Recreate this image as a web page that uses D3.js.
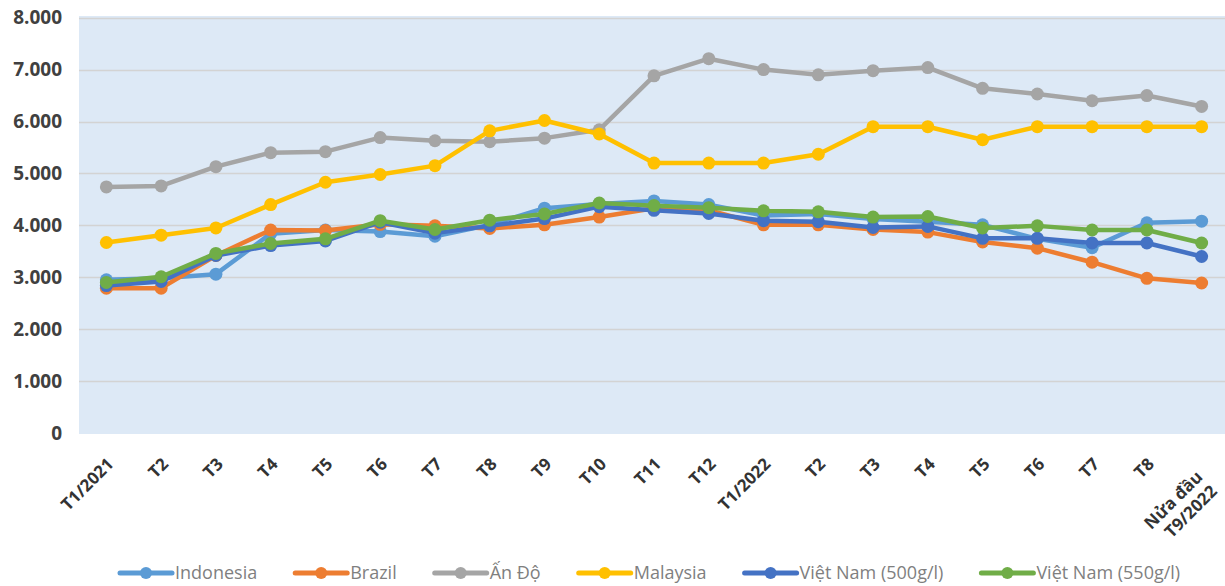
<!DOCTYPE html>
<html>
<head>
<meta charset="utf-8">
<script src="https://cdn.jsdelivr.net/npm/d3@7"></script>
<style>
    body { margin: 0; background: #fff; }
    svg { display: block; font-family: "Open Sans", "Liberation Sans", sans-serif; }
</style>
</head>
<body>
<svg id="chart"></svg>
<script>
const months = ["T1/2021", "T2", "T3", "T4", "T5", "T6", "T7", "T8", "T9", "T10", "T11", "T12",
    "T1/2022", "T2", "T3", "T4", "T5", "T6", "T7", "T8", "Nửa đầu|T9/2022"];

const indonesia = [2950, 2980, 3060, 3840, 3910, 3880, 3790, 4010, 4330, 4410, 4470, 4400, 4190, 4220, 4120, 4070, 4010, 3740, 3570, 4050, 4080];
const brazil = [2790, 2790, 3420, 3910, 3900, 4020, 3990, 3940, 4010, 4160, 4330, 4290, 4010, 4010, 3920, 3870, 3680, 3560, 3290, 2980, 2890];
const anDo = [4740, 4760, 5130, 5400, 5420, 5690, 5630, 5610, 5680, 5840, 6880, 7210, 7000, 6900, 6980, 7040, 6640, 6530, 6400, 6500, 6290];
const malaysia = [3670, 3810, 3950, 4400, 4830, 4980, 5150, 5820, 6020, 5760, 5200, 5200, 5200, 5370, 5900, 5900, 5650, 5900, 5900, 5900, 5900];
const vn500 = [2840, 2920, 3420, 3610, 3700, 4060, 3850, 3990, 4130, 4360, 4290, 4230, 4090, 4070, 3960, 3980, 3750, 3750, 3660, 3660, 3400];
const vn550 = [2900, 3010, 3460, 3650, 3740, 4090, 3920, 4100, 4220, 4430, 4380, 4340, 4280, 4260, 4160, 4170, 3950, 3990, 3910, 3910, 3660];

const yTicks = [0, 1000, 2000, 3000, 4000, 5000, 6000, 7000, 8000];

const series = [
    { name: "Indonesia", color: "#5b9bd5", values: indonesia },
    { name: "Brazil", color: "#ed7d31", values: brazil },
    { name: "Ấn Độ", color: "#a5a5a5", values: anDo },
    { name: "Malaysia", color: "#ffc000", values: malaysia },
    { name: "Việt Nam (500g/l)", color: "#4472c4", values: vn500 },
    { name: "Việt Nam (550g/l)", color: "#70ad47", values: vn550 },
];

const width = 1225, height = 586;
const plot = { left: 79, right: 1229, top: 16, bottom: 433 };

const svg = d3.select("#chart").attr("width", width).attr("height", height);

const x = d3.scaleBand()
    .domain(d3.range(months.length))
    .range([plot.left, plot.right]);

const y = d3.scaleLinear()
    .domain([0, 8000])
    .range([plot.bottom, plot.top + 1.7]);

const cx = (i) => x(i) + x.bandwidth() / 2;

// plot background
svg.append("rect")
    .attr("x", plot.left)
    .attr("y", plot.top)
    .attr("width", plot.right - plot.left)
    .attr("height", plot.bottom - plot.top + 1)
    .attr("fill", "#dde9f6");

// gridlines
svg.append("g")
    .selectAll("line")
    .data(yTicks.slice(1))
    .join("line")
    .attr("x1", plot.left)
    .attr("x2", plot.right)
    .attr("y1", (d) => Math.round(y(d)) + 0.5)
    .attr("y2", (d) => Math.round(y(d)) + 0.5)
    .attr("stroke", "#d3d3d3")
    .attr("stroke-width", 1.5);

// y axis labels
const yAxis = svg.append("g")
    .attr("transform", `translate(${plot.left - 17}, 0)`)
    .call(d3.axisLeft(y).tickValues(yTicks).tickSize(0).tickPadding(0)
        .tickFormat((d) => d3.format(",")(d).replace(/,/g, ".")));
yAxis.select(".domain").remove();
yAxis.selectAll("text")
    .attr("font-family", "'Open Sans', sans-serif")
    .attr("font-size", 19)
    .attr("font-weight", "bold")
    .attr("fill", "#404040");

// x axis labels
const xLabels = svg.append("g")
    .selectAll("text")
    .data(months)
    .join("text")
    .attr("transform", (d, i) => d.includes("|")
        ? `translate(${cx(i) + 5}, 481) rotate(-45)`
        : `translate(${cx(i) + 4}, 461) rotate(-45)`)
    .attr("text-anchor", "end")
    .attr("font-size", 17)
    .attr("font-weight", "bold")
    .attr("fill", "#333333");

xLabels.each(function (d) {
    const lines = d.split("|");
    const t = d3.select(this);
    lines.forEach((line, k) => {
        t.append("tspan")
            .attr("x", 0)
            .attr("dy", k === 0 ? (lines.length > 1 ? "-0.25em" : "0.35em") : "1.2em")
            .text(line);
    });
});

// lines and markers
const line = d3.line()
    .x((d, i) => cx(i))
    .y((d) => y(d));

const seriesG = svg.append("g")
    .selectAll("g")
    .data(series)
    .join("g");

seriesG.append("path")
    .attr("d", (d) => line(d.values))
    .attr("fill", "none")
    .attr("stroke", (d) => d.color)
    .attr("stroke-width", 4.5)
    .attr("stroke-linejoin", "round");

seriesG.selectAll("circle")
    .data((d) => d.values.map((v) => ({ v, color: d.color })))
    .join("circle")
    .attr("cx", (d, i) => cx(i))
    .attr("cy", (d) => y(d.v))
    .attr("r", 6.5)
    .attr("fill", (d) => d.color);

// legend
const legend = svg.append("g").attr("transform", "translate(120, 573)");
let lx = 0;
series.forEach((s) => {
    const item = legend.append("g").attr("transform", `translate(${lx}, 0)`);
    item.append("line")
        .attr("x1", 0).attr("x2", 52)
        .attr("stroke", s.color)
        .attr("stroke-width", 5)
        .attr("stroke-linecap", "round");
    item.append("circle")
        .attr("cx", 26).attr("r", 6)
        .attr("fill", s.color);
    const label = item.append("text")
        .attr("x", 55)
        .attr("dy", "0.35em")
        .attr("font-size", 18)
        .attr("fill", "#7f7f7f")
        .text(s.name);
    lx += 55 + label.node().getComputedTextLength() + 38;
});
</script>
</body>
</html>
